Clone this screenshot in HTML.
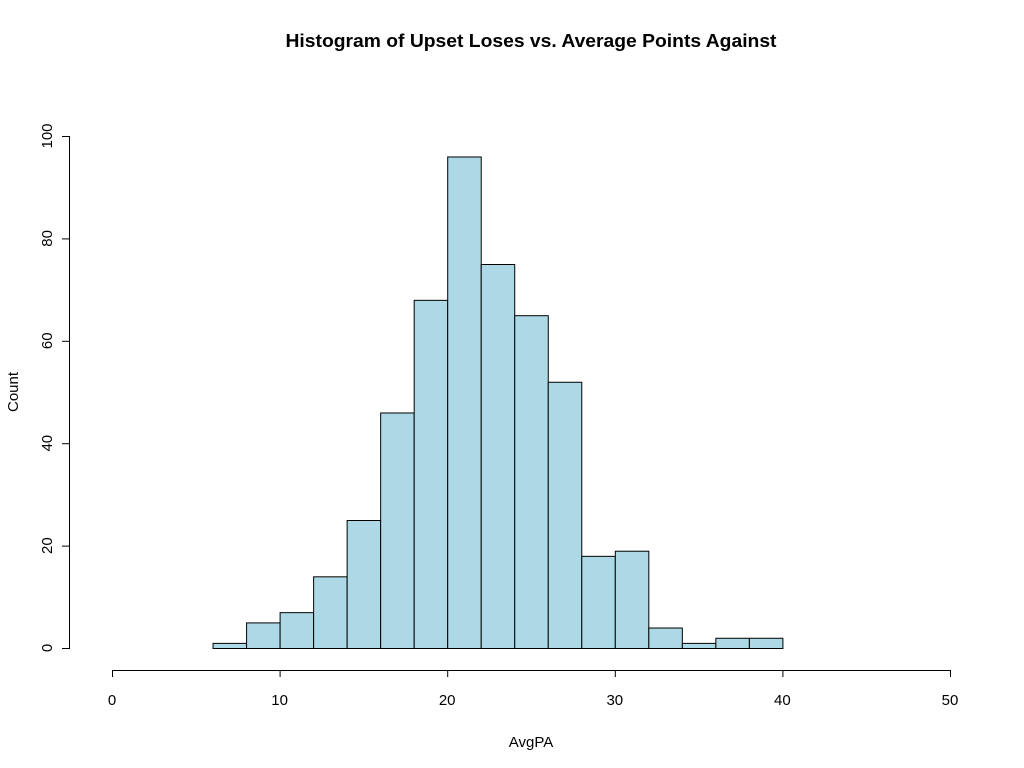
<!DOCTYPE html>
<html><head><meta charset="utf-8"><style>
body{margin:0;background:#fff}
svg{display:block;font-family:"Liberation Sans",Arial,sans-serif}
</style></head><body>
<svg id="chart" width="1024" height="768" viewBox="0 0 1024 768">
<text x="531" y="47" text-anchor="middle" font-size="18" font-weight="bold" textLength="491" lengthAdjust="spacingAndGlyphs">Histogram of Upset Loses vs. Average Points Against</text>
<text x="531" y="747" text-anchor="middle" font-size="15">AvgPA</text>
<text x="18" y="392" text-anchor="middle" font-size="15" transform="rotate(-90 18 392)">Count</text>
<g id="bars"></g><g id="axes"></g>
</svg>
<script>
const binStarts = [6,8,10,12,14,16,18,20,22,24,26,28,30,32,34,36,38];
const counts = [1,5,7,14,25,46,68,96,75,65,52,18,19,4,1,2,2];
const xTicks = [0,10,20,30,40,50];
const yTicks = [0,20,40,60,80,100];
const binWidth = 2;
const NS = "http://www.w3.org/2000/svg";
const sx = v => 112 + v * (950 - 112) / 50;
const sy = v => 648 - v * (648 - 136) / 100;
function mk(tag, attrs, parent){const e=document.createElementNS(NS,tag);for(const k in attrs)e.setAttribute(k,attrs[k]);parent.appendChild(e);return e;}
const bars=document.getElementById('bars'), axes=document.getElementById('axes');
binStarts.forEach((b,i)=>{
  const r=mk('rect',{x:sx(b)+0.5,y:sy(counts[i])+0.5,width:sx(b+binWidth)-sx(b),height:sy(0)-sy(counts[i]),fill:'#add8e6',stroke:'#000','stroke-width':1},bars);
  
  
});
const xl=mk('line',{x1:sx(0),x2:sx(50),y1:670.5,y2:670.5,stroke:'#000'},axes);


xTicks.forEach(t=>{
  mk('line',{x1:sx(t)+0.5,x2:sx(t)+0.5,y1:670,y2:677,stroke:'#000'},axes);
  const tx=mk('text',{x:sx(t),y:705,'text-anchor':'middle','font-size':15},axes);tx.textContent=t;
  
  
});
const yl=mk('line',{x1:69.5,x2:69.5,y1:sy(0),y2:sy(100),stroke:'#000'},axes);


yTicks.forEach(t=>{
  mk('line',{x1:62,x2:70,y1:sy(t)+0.5,y2:sy(t)+0.5,stroke:'#000'},axes);
  const y=sy(t);
  const tx=mk('text',{x:52,y:y,'text-anchor':'middle','font-size':15,transform:'rotate(-90 52 '+y+')'},axes);tx.textContent=t;
  
  
});
</script>
</body></html>
